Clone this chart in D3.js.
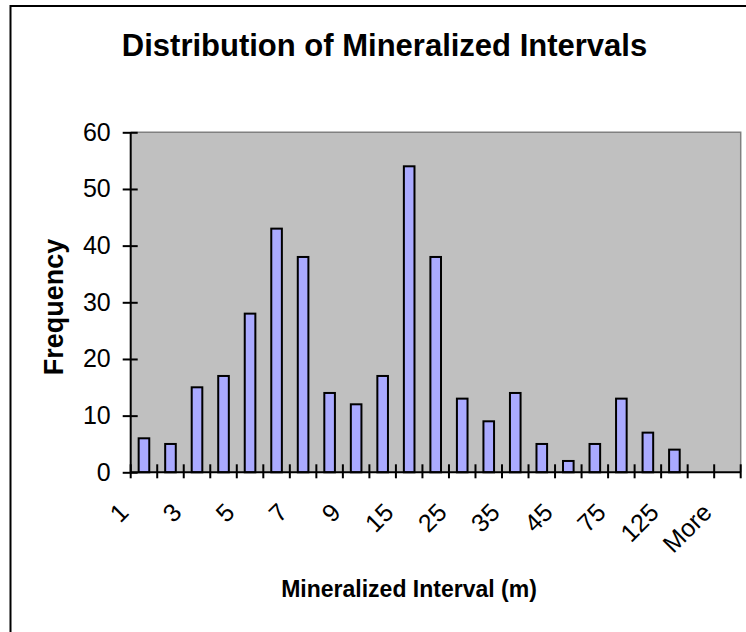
<!DOCTYPE html>
<html>
<head>
<meta charset="utf-8">
<script src="https://cdn.jsdelivr.net/npm/d3@7"></script>
<style>
  body { margin: 0; background: #fff; }
  svg { display: block; font-family: Arial, "Liberation Sans", sans-serif; }
</style>
</head>
<body>
<div class="svg-container"></div>
<script>
// histogram bins and counts
const bins = ["1", "2", "3", "4", "5", "6", "7", "8", "9", "10", "15", "20", "25", "30", "35", "40", "45", "50", "75", "100", "125", "150", "More"];
const counts = [6, 5, 15, 17, 28, 43, 38, 14, 12, 17, 54, 38, 13, 9, 14, 5, 2, 5, 13, 7, 4, 0, 0];
const shownLabels = ["1", "3", "5", "7", "9", "15", "25", "35", "45", "75", "125", "More"];
const yTicks = [0, 10, 20, 30, 40, 50, 60];

const W = 746, H = 632;
const plot = { left: 130.7, top: 132.3, right: 740.7, bottom: 472.3 };

const svg = d3.select(".svg-container")
  .append("svg")
  .attr("width", W)
  .attr("height", H);

// chart area border (runs off the right / bottom edge)
svg.append("rect")
  .attr("x", 10.5).attr("y", 6)
  .attr("width", 800).attr("height", 700)
  .attr("fill", "#fff")
  .attr("stroke", "#000")
  .attr("stroke-width", 2);

const xScale = d3.scaleBand()
  .domain(bins)
  .range([plot.left, plot.right])
  .paddingInner(0.6)
  .paddingOuter(0.3);

const yScale = d3.scaleLinear()
  .domain([0, 60])
  .range([plot.bottom, plot.top]);

// plot background
svg.append("rect")
  .attr("x", plot.left).attr("y", plot.top)
  .attr("width", plot.right - plot.left)
  .attr("height", plot.bottom - plot.top)
  .attr("fill", "#c0c0c0");

// gray frame top + right
svg.append("path")
  .attr("d", `M${plot.left},${plot.top}H${plot.right}V${plot.bottom}`)
  .attr("fill", "none")
  .attr("stroke", "#808080")
  .attr("stroke-width", 1.5);

// BARS
svg.selectAll("rect.bar")
  .data(bins.map((b, i) => ({ bin: b, value: counts[i] })).filter(d => d.value > 0))
  .enter()
  .append("rect")
  .attr("class", "bar")
  .attr("x", d => xScale(d.bin))
  .attr("y", d => yScale(d.value))
  .attr("width", xScale.bandwidth())
  .attr("height", d => yScale(0) - yScale(d.value))
  .attr("fill", "#aaaaff")
  .attr("stroke", "#000")
  .attr("stroke-width", 2);

// Y AXIS
const yAxis = d3.axisLeft(yScale)
  .tickValues(yTicks)
  .tickSize(8)
  .tickPadding(12);

const gy = svg.append("g")
  .attr("transform", `translate(${plot.left},0)`)
  .call(yAxis);
gy.select(".domain").attr("stroke", "#000").attr("stroke-width", 2)
  .attr("d", `M0,${plot.top}V${plot.bottom}`);
gy.selectAll(".tick line").attr("x1", 7).attr("stroke-width", 2);
gy.selectAll(".tick text")
  .attr("font-size", 25)
  .attr("font-family", "Arial, 'Liberation Sans', sans-serif")
  .attr("fill", "#000");

// X AXIS - ticks on category boundaries
const step = xScale.step();
const xBoundaries = d3.range(bins.length + 1).map(i => plot.left + i * step);

svg.append("line")
  .attr("x1", plot.left).attr("x2", plot.right)
  .attr("y1", plot.bottom).attr("y2", plot.bottom)
  .attr("stroke", "#000").attr("stroke-width", 2);

svg.selectAll("line.xtick")
  .data(xBoundaries)
  .enter()
  .append("line")
  .attr("class", "xtick")
  .attr("x1", d => d).attr("x2", d => d)
  .attr("y1", plot.bottom - 8).attr("y2", plot.bottom + 6)
  .attr("stroke", "#000").attr("stroke-width", 2);

svg.selectAll("text.xlabel")
  .data(shownLabels)
  .enter()
  .append("text")
  .attr("class", "xlabel")
  .attr("transform", d => {
    const cx = xScale(d) + xScale.bandwidth() / 2 - 14;
    return `translate(${cx},514) rotate(-45)`;
  })
  .attr("text-anchor", "end")
  .attr("font-size", 25)
  .attr("fill", "#000")
  .text(d => d);

// TITLES
svg.append("text")
  .attr("x", 384.5).attr("y", 56)
  .attr("text-anchor", "middle")
  .attr("font-size", 31)
  .attr("font-weight", "bold")
  .text("Distribution of Mineralized Intervals");

svg.append("text")
  .attr("x", 409).attr("y", 596.7)
  .attr("text-anchor", "middle")
  .attr("font-size", 23)
  .attr("font-weight", "bold")
  .text("Mineralized Interval (m)");

svg.append("text")
  .attr("transform", "translate(63.3,307) rotate(-90)")
  .attr("text-anchor", "middle")
  .attr("font-size", 27)
  .attr("font-weight", "bold")
  .text("Frequency");
</script>
</body>
</html>
